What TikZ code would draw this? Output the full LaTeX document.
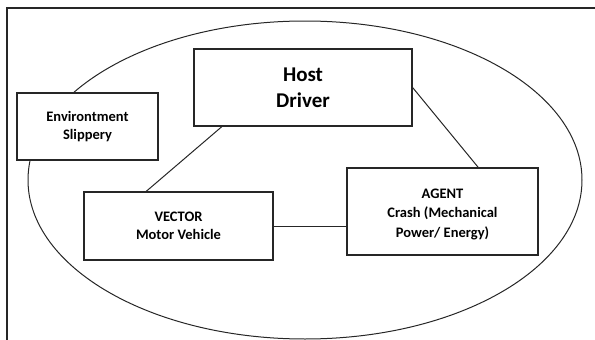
\documentclass[tikz,border=0pt]{standalone}
\usepackage{fontspec}
\setmainfont{Carlito}
\usetikzlibrary{calc}
\begin{document}
\begin{tikzpicture}[x=1pt,y=1pt,
  factor/.style={draw=black!85, line width=1.2pt, fill=white, rectangle,
    align=center, inner sep=0pt, font=\fontsize{14.5}{18.5}\selectfont\bfseries},
  caption/.style={align=center, inner sep=0pt, font=\fontsize{14.5}{19.5}\selectfont\bfseries},
  link/.style={draw=black!85, line width=1pt}]
  \useasboundingbox (0,0) rectangle (595,-340);
  % outer frame (top and left edges)
  \draw[black!85, line width=1.3pt] (595,-8) -- (7,-8) -- (7,-340);
  % enclosing ellipse
  \draw[black!85, line width=1pt] (305,-180) ellipse [x radius=277, y radius=159];
  % factor boxes
  \node[factor, minimum width=141, minimum height=67] (env) at (87.5,-126.5)
    {Environtment\\Slippery};
  \node[factor, minimum width=218, minimum height=77,
        font=\fontsize{21}{26}\selectfont\bfseries] (host) at (303,-87.5)
    {Host\\Driver};
  \node[factor, minimum width=189, minimum height=68] (vector) at (178.5,-226)
    {VECTOR\\Motor Vehicle};
  \node[factor, minimum width=191, minimum height=87] (agent) at (442.5,-211.5) {};
  \node[caption] (agenttext) at ($(agent.center)+(0,-2.5)$)
    {AGENT\\Crash (Mechanical\\Power/ Energy)};
  % connectors
  \draw[link] ($(host.south west)!0.13!(host.south east)$)
           -- ($(vector.north west)!0.33!(vector.north east)$);
  \draw[link] (host.east) -- ($(agent.north west)!0.686!(agent.north east)$);
  \draw[link] (vector.east) -- (vector.east -| agent.west);
\end{tikzpicture}
\end{document}
